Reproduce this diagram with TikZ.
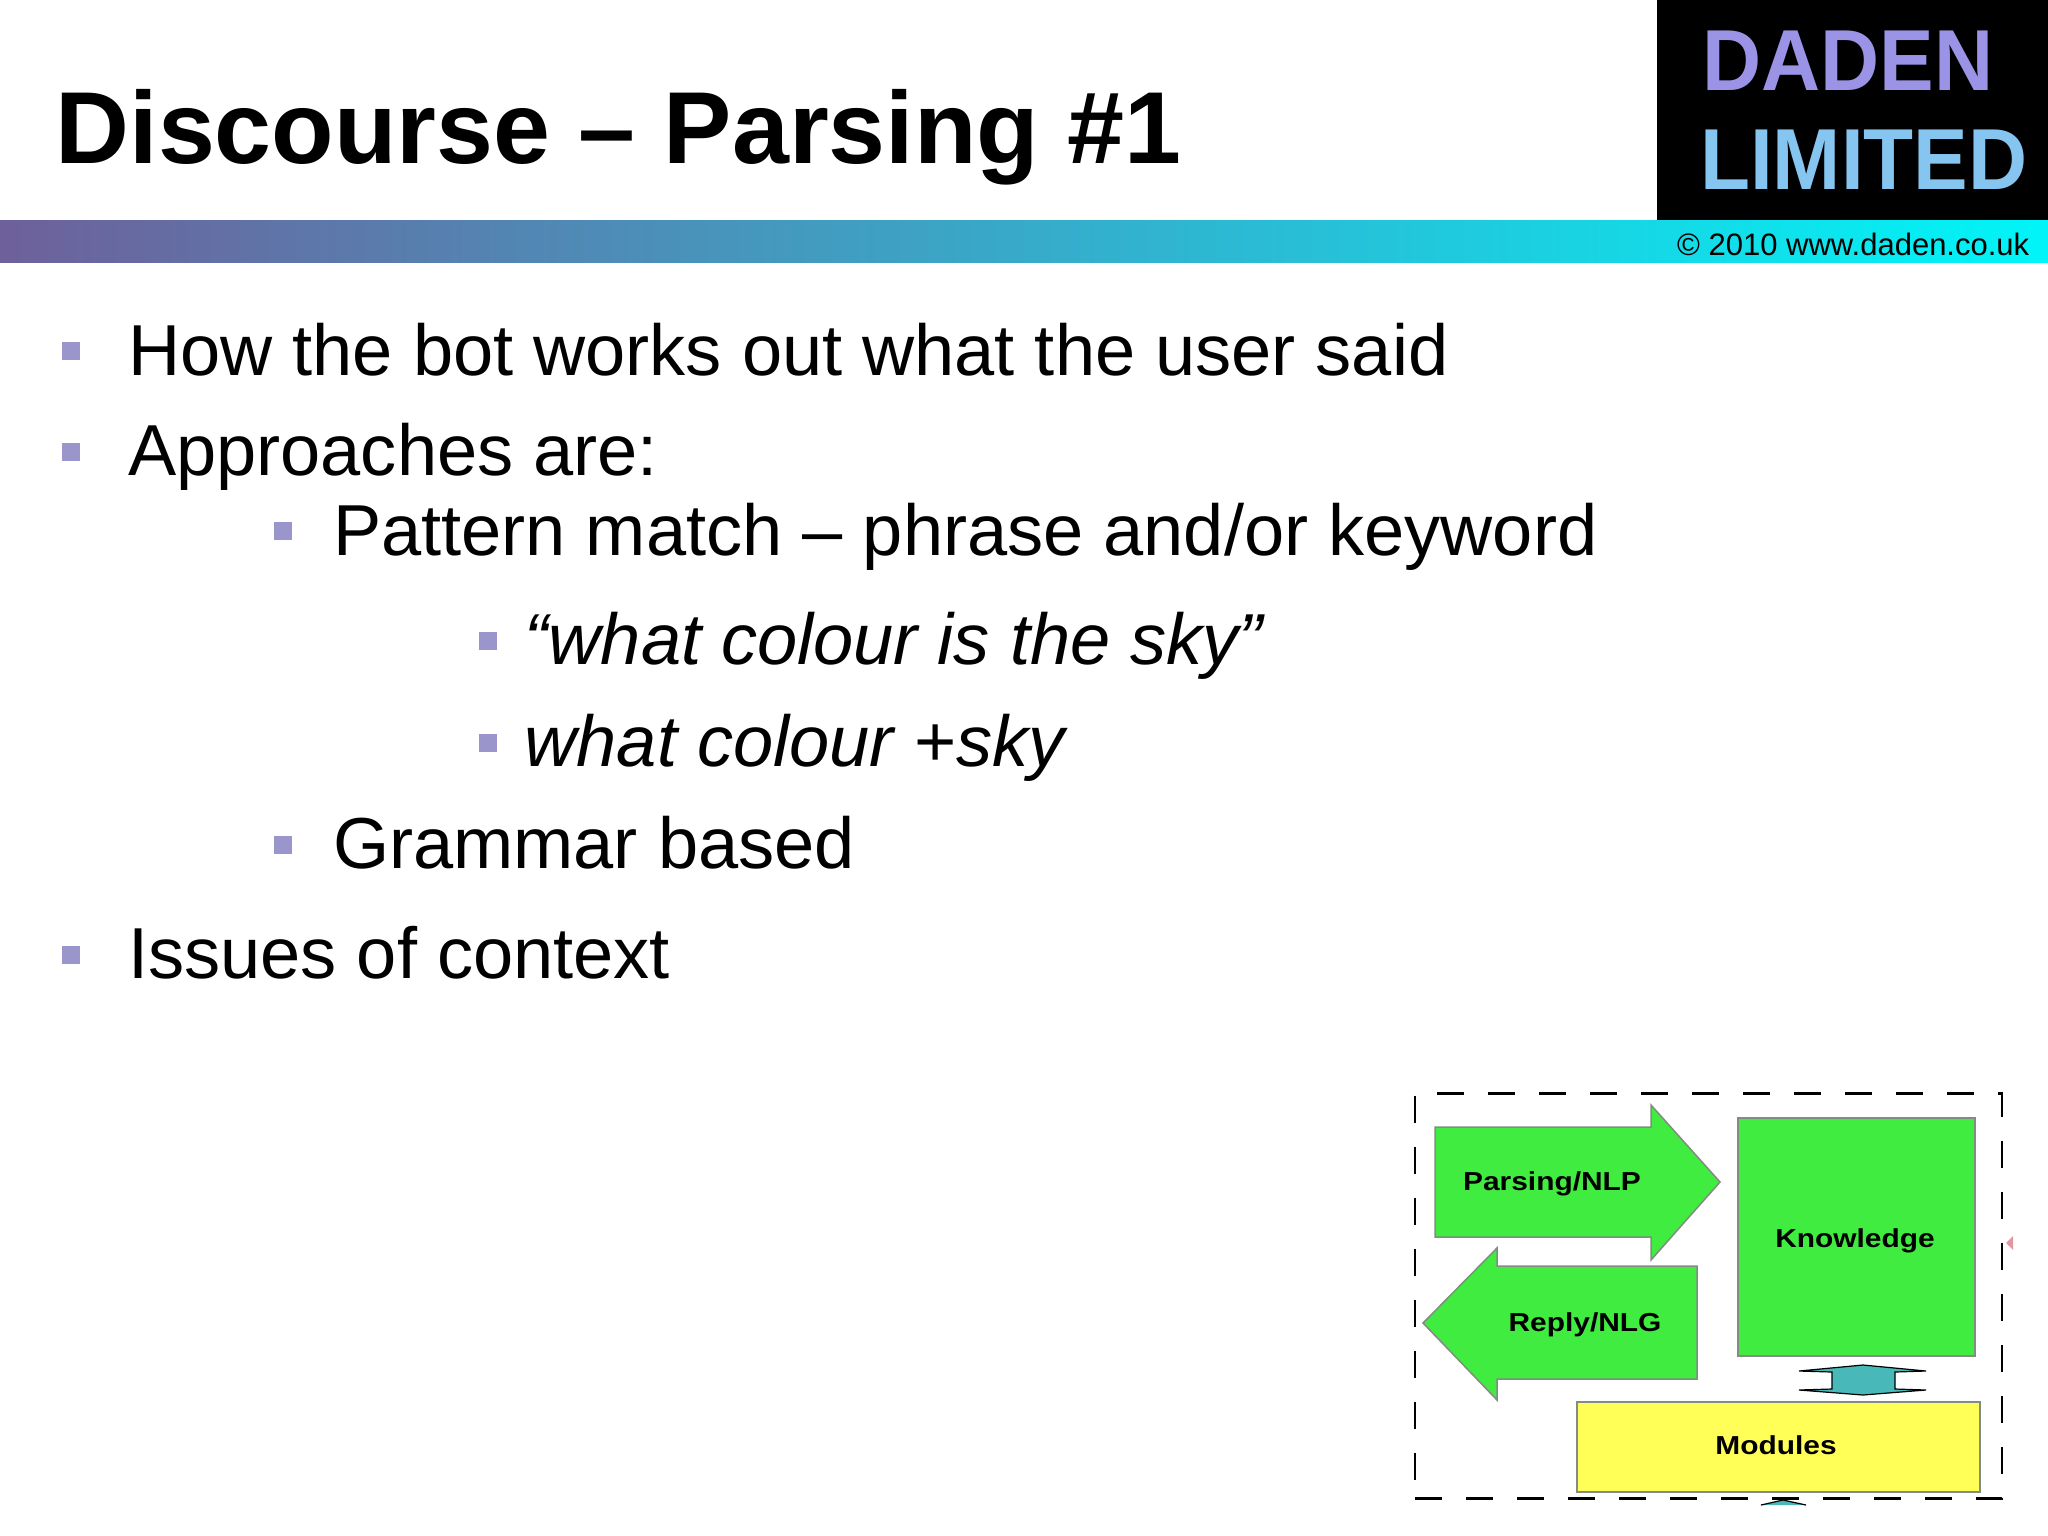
\documentclass[tikz,border=0pt]{standalone}
\usepackage{fontspec}
\setmainfont{Liberation Sans}
\newfontfamily\logofont[FakeStretch=0.945]{Liberation Sans}
\newfontfamily\boxfont[FakeStretch=1.15]{Liberation Sans}
\usetikzlibrary{shapes}
\usetikzlibrary{calc}

\begin{document}
\begin{tikzpicture}[x=1pt, y=-1pt,
				title/.style={anchor=base west, inner sep=0pt, font=\fontsize{102.3}{102}\selectfont\bfseries, text=black},
				body/.style={anchor=base west, inner sep=0pt, font=\fontsize{72.2}{72}\selectfont, text=black},
				quoted/.style={body, font=\fontsize{72.2}{72}\selectfont\itshape},
				bullet/.style={rectangle, inner sep=0pt, minimum size=18pt, fill=bulletblue},
				logotext/.style={anchor=base west, inner sep=0pt, font=\fontsize{86.6}{87}\logofont\bfseries},
				greenbox/.style={draw=boxgrey, line width=1.5pt, fill=boxgreen},
				yellowbox/.style={draw=boxgrey, line width=1.5pt, fill=boxyellow},
				boxlabel/.style={anchor=base, inner sep=0pt, font=\fontsize{26}{26}\boxfont\bfseries},
				linkshape/.style={draw=black, line width=1.2pt, fill=linkteal},
				frame/.style={rectangle, inner sep=0pt, draw=black, line width=2.5pt, dash pattern=on 27pt off 24pt}]

					\definecolor{bulletblue}{RGB}{154,150,204}
					\definecolor{barleft}{RGB}{110,96,155}
					\definecolor{barright}{RGB}{0,245,248}
					\definecolor{logoblue}{RGB}{155,148,230}
					\definecolor{logocyan}{RGB}{133,197,240}
					\definecolor{boxgreen}{RGB}{64,236,64}
					\definecolor{boxyellow}{RGB}{255,255,88}
					\definecolor{boxgrey}{RGB}{130,140,130}
					\definecolor{linkteal}{RGB}{72,184,184}
					\definecolor{markpink}{RGB}{228,150,160}

					\useasboundingbox (0,0) rectangle (2048,1535);

					\node[rectangle, inner sep=0pt, anchor=north west, minimum width=2048pt, minimum height=42pt, left color=barleft, right color=barright] (bar) at (0,220) {};
					\node[rectangle, inner sep=0pt, anchor=north east, minimum width=391pt, minimum height=220pt, fill=black] (logo) at (2048,0) {};
					\node[logotext, text=logoblue] (daden) at (1702,90) {DADEN};
					\node[logotext, text=logocyan] (limited) at (1700,189) {LIMITED};
					\node[anchor=base west, inner sep=0pt, font=\fontsize{31}{31}\selectfont] (copy) at (1677,255) {© 2010 www.daden.co.uk};

					\node[title] (heading) at (55.5,163) {Discourse – Parsing \#1};

					\node[bullet] (b1) at (71,351) {};
					\node[body] (t1) at (128,375) {How the bot works out what the user said};
					\node[bullet] (b2) at (71,452) {};
					\node[body] (t2) at (128,475.5) {Approaches are:};
					\node[bullet] (b3) at (283,531) {};
					\node[body] (t3) at (333,555.5) {Pattern match – phrase and/or keyword};
					\node[bullet] (b4) at (488,641) {};
					\node[quoted] (t4) at (524.5,664.5) {“what colour is the sky”};
					\node[bullet] (b5) at (488,743) {};
					\node[quoted] (t5) at (524.5,766.5) {what colour +sky};
					\node[bullet] (b6) at (283,845) {};
					\node[body] (t6) at (333,868.5) {Grammar based};
					\node[bullet] (b7) at (71,955) {};
					\node[body] (t7) at (128,978.5) {Issues of context};

					\node[frame, minimum width=587pt, minimum height=405pt] (frame) at (1708.5,1296) {};

					\draw[greenbox] (1435,1127) -- (1651,1127) -- (1651,1105) -- (1720,1182) -- (1651,1260) -- (1651,1237) -- (1435,1237) -- cycle;
					\node[boxlabel] (parsing) at (1552,1190.5) {Parsing/NLP};
					\draw[greenbox] (1697,1266) -- (1497,1266) -- (1497,1248) -- (1423,1323) -- (1497,1400) -- (1497,1379) -- (1697,1379) -- cycle;
					\node[boxlabel] (reply) at (1585,1331) {Reply/NLG};
					\node[greenbox, rectangle, inner sep=0pt, minimum width=237pt, minimum height=238pt] (knowledge) at (1856.5,1237) {};
					\node[boxlabel] (knowtext) at (1855,1247) {Knowledge};
					\node[yellowbox, rectangle, inner sep=0pt, minimum width=403pt, minimum height=90pt] (modules) at (1778.5,1447) {};
					\node[boxlabel] (modtext) at (1776,1454) {Modules};

					\draw[linkshape] (1863,1365) -- (1926,1371) -- (1895,1372) -- (1895,1389) -- (1926,1390) -- (1863,1395) -- (1799,1390) -- (1832,1389) -- (1832,1372) -- (1799,1371) -- cycle;
					\draw[linkshape] (1761,1505) -- (1783,1500) -- (1806,1505);
					\fill[markpink] (2006,1243) -- (2013,1236) -- (2013,1250) -- cycle;
				\end{tikzpicture}
\end{document}
